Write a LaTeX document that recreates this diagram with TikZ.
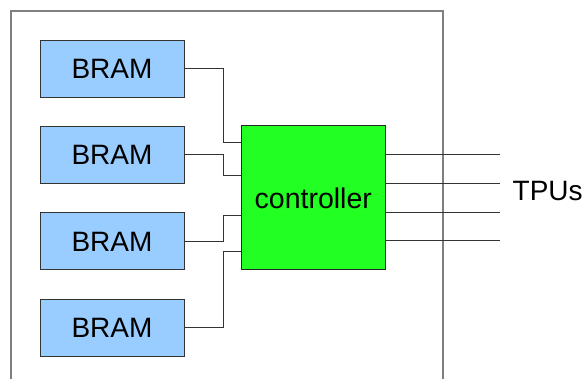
\documentclass[tikz,border=0pt]{standalone}
\usepackage{fontspec}
\setmainfont{Liberation Sans}
\usetikzlibrary{calc}
\definecolor{bramblue}{HTML}{99CCFF}
\definecolor{ctrlgreen}{HTML}{22FF22}
\definecolor{edgegray}{HTML}{333333}
\definecolor{framegray}{HTML}{808080}
\begin{document}
\begin{tikzpicture}[x=1pt,y=-1pt,
  bram/.style={draw=edgegray,fill=bramblue,line width=1pt,minimum width=144pt,minimum height=57pt,inner sep=0pt,font=\fontsize{28}{30}\selectfont},
  ctrl/.style={draw=black!85,fill=ctrlgreen,line width=1pt,minimum width=144pt,minimum height=144pt,inner sep=0pt,font=\fontsize{28.5}{30}\selectfont},
  wire/.style={draw=black!80,line width=1pt},
  frame/.style={draw=framegray,line width=1.4pt},
  lbl/.style={inner sep=0pt,font=\fontsize{28}{30}\selectfont}]
\useasboundingbox (0,0) rectangle (586,379);
\clip (0,0) rectangle (586,379);
% outer frame (open at bottom)
\draw[frame] (11,390) -- (11,11) -- (443,11) -- (443,390);
% nodes
\node[bram] (b1) at (112,68.7) {BRAM};
\node[bram] (b2) at (112,155) {BRAM};
\node[bram] (b3) at (112,241.5) {BRAM};
\node[bram] (b4) at (112,327.7) {BRAM};
\node[ctrl] (c) at (313.3,198) {controller};
\node[lbl,anchor=west] (tpu) at (512.5,191) {TPUs};
% input wires
\draw[wire] (b1.east) -- ++(39,0) |- ($(c.north west)+(0,16.7)$);
\draw[wire] (b2.east) -- ++(39,0) |- ($(c.north west)+(0,50)$);
\draw[wire] (b3.east) -- ++(39,0) |- ($(c.north west)+(0,90)$);
\draw[wire] (b4.east) -- ++(39,0) |- ($(c.north west)+(0,126.3)$);
% output wires
\coordinate (o1) at (500,155);
\coordinate (o2) at (500,183.3);
\coordinate (o3) at (500,212.3);
\coordinate (o4) at (500,241);
\draw[wire] (c.east |- o1) -- (o1);
\draw[wire] (c.east |- o2) -- (o2);
\draw[wire] (c.east |- o3) -- (o3);
\draw[wire] (c.east |- o4) -- (o4);
\end{tikzpicture}
\end{document}
